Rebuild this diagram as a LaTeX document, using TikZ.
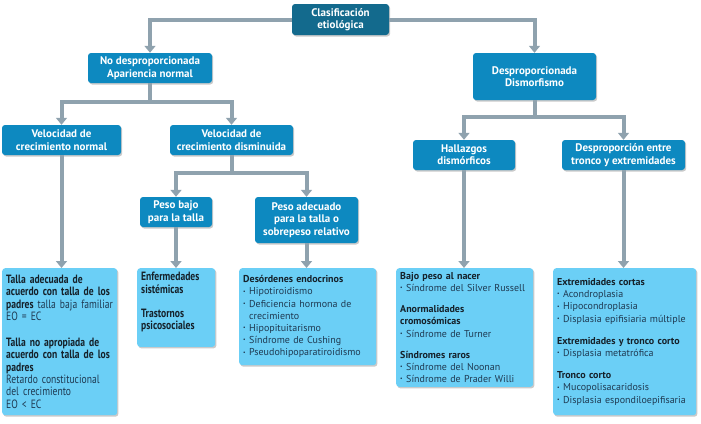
\documentclass[tikz,border=0pt]{standalone}
\usepackage{fontspec}
\setmainfont{PT Sans}
\newfontfamily\narrowfont{PT Sans}[FakeStretch=0.8]
\usetikzlibrary{arrows.meta,shadows}
\definecolor{topc}{HTML}{136A8D}
\definecolor{midc}{HTML}{0D89C0}
\definecolor{lightc}{HTML}{6BCFF6}
\definecolor{conc}{HTML}{8FA2AE}
\definecolor{txtc}{HTML}{15212A}
\definecolor{regc}{HTML}{1F3A52}
\newcommand{\bul}{\makebox[0.6em][l]{\raisebox{0.35ex}{\scalebox{0.55}{•}}}}
\newcommand{\rg}[1]{{\mdseries\color{regc}#1}}
\begin{document}
\begin{tikzpicture}[x=1pt,y=-1pt,
  shad/.style={drop shadow={shadow xshift=1.2pt,shadow yshift=-1.5pt,opacity=0.35,fill=black!60}},
  headbox/.style={shad,rounded corners=3pt,fill=midc,text=white,align=center,inner sep=0pt,
     font=\fontsize{11}{12.4}\selectfont\bfseries},
  topbox/.style={headbox,fill=topc},
  listbox/.style={shad,rounded corners=3pt,fill=lightc,text=txtc,align=left,anchor=north west,
     inner xsep=4pt,inner ysep=4pt,font=\fontsize{10}{12.2}\selectfont},
  narrowbox/.style={listbox,font=\narrowfont\fontsize{12}{12.3}\selectfont},
  conn/.style={draw=conc,line width=4pt,-{Triangle[width=11pt,length=7pt]}}]
\useasboundingbox (0,0) rectangle (701,423);

% level 0
\node[topbox,minimum width=97pt,minimum height=31pt] (top) at (340.5,19.5) {Clasificación\\etiológica};
% level 1
\node[headbox,minimum width=124pt,minimum height=30pt] (nd) at (150,68) {No desproporcionada\\Apariencia normal};
\node[headbox,minimum width=123pt,minimum height=47pt] (d) at (534.5,76.5) {Desproporcionada\\Dismorfismo};
% level 2
\node[headbox,minimum width=119pt,minimum height=30pt] (vn) at (61.5,140) {Velocidad de\\crecimiento normal};
\node[headbox,minimum width=123pt,minimum height=30pt] (vd) at (231.5,140) {Velocidad de\\crecimiento disminuida};
\node[headbox,minimum width=102pt,minimum height=30pt] (hz) at (464,155) {Hallazgos\\dismórficos};
\node[headbox,minimum width=123pt,minimum height=30pt] (de) at (623.5,155) {Desproporción entre\\tronco y extremidades};
% level 3
\node[headbox,minimum width=72pt,minimum height=30pt] (pb) at (176,212) {Peso bajo\\para la talla};
\node[headbox,minimum width=103pt,minimum height=46pt] (pa) at (306.5,220) {Peso adecuado\\para la talla o\\sobrepeso relativo};
% leaves
\node[narrowbox,text width=107pt,minimum height=147pt] (talla) at (2,268) {%
\textbf{Talla adecuada de}\\
\textbf{acuerdo con talla de los}\\
\textbf{padres} \rg{talla baja familiar}\\
\rg{EO = EC}\\[14pt]
\textbf{Talla no apropiada de}\\
\textbf{acuerdo con talla de los}\\
\textbf{padres}\\
\rg{Retardo constitucional}\\
\rg{del crecimiento}\\
\rg{EO < EC}};
\node[narrowbox,text width=70pt,minimum height=75pt] (enf) at (137,268) {%
\textbf{Enfermedades}\\
\textbf{sistémicas}\\[12pt]
\textbf{Trastornos}\\
\textbf{psicosociales}\\[1pt]\mbox{}};
\node[listbox,text width=129pt,minimum height=97pt] (des) at (239,268) {%
\textbf{Desórdenes endocrinos}\\
\rg{\bul Hipotiroidismo}\\
\rg{\bul Deficiencia hormona de}\\
\rg{\hspace*{0.6em}crecimiento}\\
\rg{\bul Hipopituitarismo}\\
\rg{\bul Síndrome de Cushing}\\
\rg{\bul Pseudohipoparatiroidismo}};
\node[listbox,text width=129pt,minimum height=115pt] (bp) at (396,268) {%
\textbf{Bajo peso al nacer}\\
\rg{\bul Síndrome del Silver Russell}\\[9pt]
\textbf{Anormalidades}\\
\textbf{cromosómicas}\\
\rg{\bul Síndrome de Turner}\\[9pt]
\textbf{Síndromes raros}\\
\rg{\bul Síndrome del Noonan}\\
\rg{\bul Síndrome de Prader Willi}};
\node[listbox,text width=135pt,minimum height=147pt] (ext) at (553,268) {%
\textbf{Extremidades cortas}\\
\rg{\bul Acondroplasia}\\
\rg{\bul Hipocondroplasia}\\
\rg{\bul Displasia epifisiaria múltiple}\\[10pt]
\textbf{Extremidades y tronco corto}\\
\rg{\bul Displasia metatrófica}\\[10pt]
\textbf{Tronco corto}\\
\rg{\bul Mucopolisacaridosis}\\
\rg{\bul Displasia espondiloepifisaria}};

% connectors
\draw[conn] (top.west) -| (nd.north);
\draw[conn] (top.east) -| (d.north);
\draw[conn] (nd.south) -- ++(0,19) -| (vn.north);
\draw[conn] (nd.south) -- ++(0,19) -| (vd.north);
\draw[conn] (d.south) -- ++(0,17) -| (hz.north);
\draw[conn] (d.south) -- ++(0,17) -| (de.north);
\draw[conn] (vd.south) -- ++(0,18) -| (pb.north);
\draw[conn] (vd.south) -- ++(0,18) -| (pa.north);
\draw[conn] (vn.south) -- (vn.south |- talla.north);
\draw[conn] (pb.south) -- (pb.south |- enf.north);
\draw[conn] (pa.south) -- (pa.south |- des.north);
\draw[conn] (hz.south) -- (hz.south |- bp.north);
\draw[conn] (de.south) -- (de.south |- ext.north);
\end{tikzpicture}
\end{document}
